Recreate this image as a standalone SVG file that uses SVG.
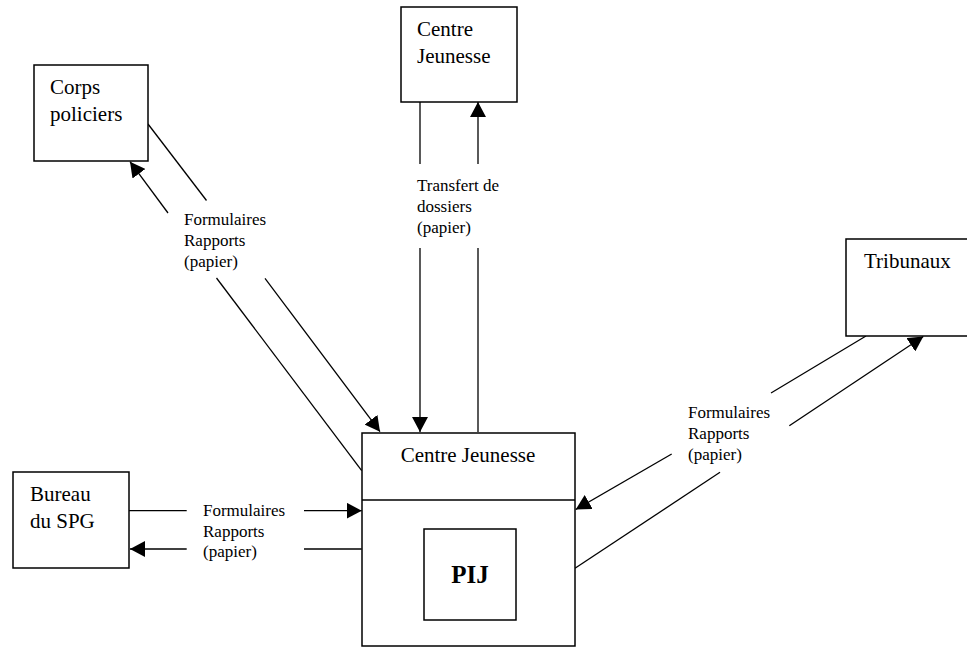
<svg xmlns="http://www.w3.org/2000/svg" width="967" height="647" viewBox="0 0 967 647">
<style>
.box{fill:#fff;stroke:#000;stroke-width:1.5}
.ln{fill:none;stroke:#000;stroke-width:1.3}
.t{font-family:"Liberation Serif","Times New Roman",serif;font-size:21px;fill:#000}
.l{font-family:"Liberation Serif","Times New Roman",serif;font-size:17px;fill:#000}
.b{font-family:"Liberation Serif","Times New Roman",serif;font-size:25px;font-weight:bold;fill:#000}
</style>
<defs>
<marker id="ah" viewBox="0 0 15 16" refX="15" refY="8" markerWidth="15" markerHeight="16" markerUnits="userSpaceOnUse" orient="auto">
<path d="M0,0 L15,8 L0,16 Z" fill="#000"/>
</marker>
</defs>
<rect width="967" height="647" fill="#fff"/>
<g id="connectors">
<!-- Corps policiers -->
<line class="ln" x1="148" y1="124" x2="206.5" y2="200.5"/>
<line class="ln" x1="265" y1="278.3" x2="380" y2="431.7" marker-end="url(#ah)"/>
<line class="ln" x1="361.7" y1="470.7" x2="216.5" y2="278"/>
<line class="ln" x1="168" y1="213" x2="130" y2="161.7" marker-end="url(#ah)"/>
<!-- Centre Jeunesse top -->
<line class="ln" x1="420" y1="102" x2="420" y2="164"/>
<line class="ln" x1="420" y1="248" x2="420" y2="432" marker-end="url(#ah)"/>
<line class="ln" x1="478" y1="432" x2="478" y2="248"/>
<line class="ln" x1="478" y1="164" x2="478" y2="102" marker-end="url(#ah)"/>
<!-- Tribunaux -->
<line class="ln" x1="866" y1="336" x2="771" y2="393"/>
<line class="ln" x1="671.7" y1="454" x2="575.7" y2="509.5" marker-end="url(#ah)"/>
<line class="ln" x1="575" y1="568.3" x2="720" y2="472.3"/>
<line class="ln" x1="789.3" y1="425.7" x2="923.3" y2="336.5" marker-end="url(#ah)"/>
<!-- Bureau du SPG -->
<line class="ln" x1="129" y1="510.7" x2="186.7" y2="510.7"/>
<line class="ln" x1="304" y1="510.7" x2="361.7" y2="510.7" marker-end="url(#ah)"/>
<line class="ln" x1="361.7" y1="549" x2="304" y2="549"/>
<line class="ln" x1="186.7" y1="549" x2="130" y2="549" marker-end="url(#ah)"/>
<!-- labels -->
<text class="l" x="184" y="225">Formulaires</text>
<text class="l" x="184" y="246">Rapports</text>
<text class="l" x="184" y="267">(papier)</text>
<text class="l" x="417" y="191">Transfert de</text>
<text class="l" x="417" y="212">dossiers</text>
<text class="l" x="417" y="233">(papier)</text>
<text class="l" x="688" y="418">Formulaires</text>
<text class="l" x="688" y="439">Rapports</text>
<text class="l" x="688" y="460">(papier)</text>
<text class="l" x="203" y="516">Formulaires</text>
<text class="l" x="203" y="537">Rapports</text>
<text class="l" x="203" y="557">(papier)</text>
</g>
<g id="corps-policiers">
<rect class="box" x="34" y="65" width="114" height="96"/>
<text class="t" x="50" y="94">Corps</text>
<text class="t" x="50" y="120.5">policiers</text>
</g>
<g id="centre-jeunesse-top">
<rect class="box" x="401" y="7" width="116" height="95"/>
<text class="t" x="417" y="36">Centre</text>
<text class="t" x="417" y="62.5">Jeunesse</text>
</g>
<g id="tribunaux">
<rect class="box" x="846" y="239" width="125" height="97"/>
<text class="t" x="864" y="268">Tribunaux</text>
</g>
<g id="bureau-spg">
<rect class="box" x="13" y="472" width="116" height="96"/>
<text class="t" x="30" y="501">Bureau</text>
<text class="t" x="30" y="527.5">du SPG</text>
</g>
<g id="centre-jeunesse-main">
<rect class="box" x="362" y="433" width="213" height="213"/>
<line class="ln" x1="362" y1="500" x2="575" y2="500" style="stroke-width:1.5"/>
<text class="t" x="468" y="462" text-anchor="middle">Centre Jeunesse</text>
</g>
<g id="pij">
<rect class="box" x="424" y="529" width="92" height="91"/>
<text class="b" x="470" y="583" text-anchor="middle">PIJ</text>
</g>
</svg>
